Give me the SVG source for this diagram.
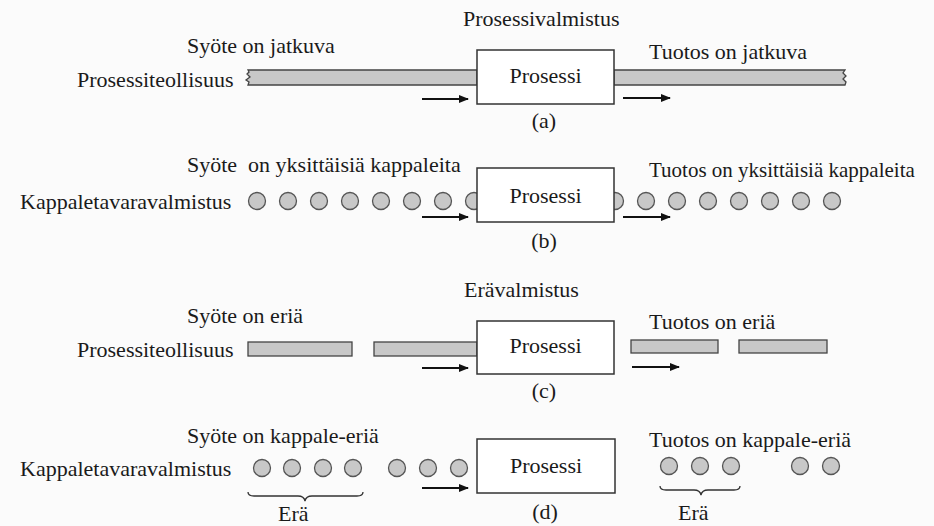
<svg xmlns="http://www.w3.org/2000/svg" width="934" height="526" viewBox="0 0 934 526" font-family="'Liberation Serif', 'Times New Roman', 'DejaVu Serif', serif">
<style>
text{font-family:'Liberation Serif','Times New Roman','DejaVu Serif',serif;font-size:22px;fill:#1a1a1a}
.mid{text-anchor:middle}
.box{fill:#ffffff;stroke:#333;stroke-width:1.5}
.bar{fill:#c8c8c8;stroke:#444;stroke-width:1.3}
.part{fill:#c8c8c8;stroke:#555;stroke-width:1.3}
.arr{stroke:#111;stroke-width:2;fill:none;marker-end:url(#ah)}
.brace{fill:none;stroke:#333;stroke-width:1.3}
</style>
<defs>
<marker id="ah" viewBox="0 0 10 8" refX="9" refY="4" markerWidth="5" markerHeight="4" orient="auto" markerUnits="strokeWidth">
<path d="M0,0 L10,4 L0,8 Z" fill="#111"/>
</marker>
</defs>
<rect width="934" height="526" fill="#fbfbfb"/>

<!-- Panel a -->
<g id="panel-a">
<text x="463" y="26">Prosessivalmistus</text>
<text x="187" y="53">Syöte on jatkuva</text>
<text x="77" y="87">Prosessiteollisuus</text>
<text x="649" y="59">Tuotos on jatkuva</text>
<path class="bar" d="M248,70 L477,70 L477,85 L248,85 L249,82 L246,80 L250,77 L247,74 L249,72 Z"/>
<path class="bar" d="M614,70 L845,70 L843,73 L846,76 L843,79 L846,82 L845,85 L614,85 Z"/>
<text class="mid" x="544" y="128">(a)</text>
</g>
<g id="process-a">
<rect class="box" x="477" y="50" width="137" height="54"/>
<text class="mid" x="545.5" y="83">Prosessi</text>
</g>

<!-- Panel b -->
<g id="panel-b">
<text x="187" y="172" xml:space="preserve">Syöte  on yksittäisiä kappaleita</text>
<text x="20" y="209">Kappaletavaravalmistus</text>
<text x="649" y="177" style="font-size:21px">Tuotos on yksittäisiä kappaleita</text>
<g class="part">
<circle cx="257" cy="201" r="8.5"/><circle cx="288" cy="201" r="8.5"/><circle cx="319" cy="201" r="8.5"/><circle cx="350" cy="201" r="8.5"/><circle cx="381" cy="201" r="8.5"/><circle cx="412" cy="201" r="8.5"/><circle cx="443" cy="201" r="8.5"/><circle cx="474" cy="201" r="8.5"/>
<circle cx="615" cy="201" r="8.5"/><circle cx="646" cy="201" r="8.5"/><circle cx="677" cy="201" r="8.5"/><circle cx="708" cy="201" r="8.5"/><circle cx="739" cy="201" r="8.5"/><circle cx="770" cy="201" r="8.5"/><circle cx="801" cy="201" r="8.5"/><circle cx="832" cy="201" r="8.5"/>
</g>
<text class="mid" x="544" y="248">(b)</text>
</g>
<g id="process-b">
<rect class="box" x="477" y="168" width="137" height="54"/>
<text class="mid" x="545.5" y="203">Prosessi</text>
</g>

<!-- Panel c -->
<g id="panel-c">
<text x="464" y="297">Erävalmistus</text>
<text x="187" y="323">Syöte on eriä</text>
<text x="77" y="357">Prosessiteollisuus</text>
<text x="649" y="329">Tuotos on eriä</text>
<rect class="bar" x="248" y="342" width="104" height="14"/>
<rect class="bar" x="374" y="342" width="103" height="14"/>
<rect class="bar" x="631" y="340" width="87" height="13"/>
<rect class="bar" x="739" y="340" width="88" height="13"/>
<text class="mid" x="544" y="398">(c)</text>
</g>
<g id="process-c">
<rect class="box" x="477" y="321" width="137" height="53"/>
<text class="mid" x="545.5" y="353">Prosessi</text>
</g>

<!-- Panel d -->
<g id="panel-d">
<text x="187" y="443">Syöte on kappale-eriä</text>
<text x="20" y="476">Kappaletavaravalmistus</text>
<text x="649" y="447">Tuotos on kappale-eriä</text>
<g class="part">
<circle cx="262" cy="468" r="8.5"/><circle cx="292" cy="468" r="8.5"/><circle cx="323" cy="468" r="8.5"/><circle cx="353" cy="468" r="8.5"/>
<circle cx="397" cy="468" r="8.5"/><circle cx="428" cy="468" r="8.5"/><circle cx="459" cy="468" r="8.5"/>
<circle cx="669" cy="466" r="8.5"/><circle cx="700" cy="466" r="8.5"/><circle cx="731" cy="466" r="8.5"/>
<circle cx="800" cy="466" r="8.5"/><circle cx="831" cy="466" r="8.5"/>
</g>
<path class="brace" d="M248,492 Q248,496 254,496 L298,496 Q304,496 305,501 Q306,496 312,496 L357,496 Q363,496 363,492"/>
<text x="278" y="521">Erä</text>
<path class="brace" d="M660,486 Q660,490 666,490 L694,490 Q700,490 701,495 Q702,490 708,490 L734,490 Q740,490 740,486"/>
<text x="678" y="520">Erä</text>
<text class="mid" x="545" y="519">(d)</text>
</g>
<g id="process-d">
<rect class="box" x="477" y="439" width="138" height="54"/>
<text class="mid" x="546" y="473">Prosessi</text>
</g>

<!-- Connectors -->
<g id="connectors">
<line class="arr" x1="422" y1="99" x2="468" y2="99"/>
<line class="arr" x1="623" y1="98" x2="670" y2="98"/>
<line class="arr" x1="422" y1="217" x2="468" y2="217"/>
<line class="arr" x1="623" y1="217" x2="670" y2="217"/>
<line class="arr" x1="422" y1="368" x2="468" y2="368"/>
<line class="arr" x1="632" y1="367" x2="679" y2="367"/>
<line class="arr" x1="422" y1="488" x2="468" y2="488"/>
</g>
</svg>
